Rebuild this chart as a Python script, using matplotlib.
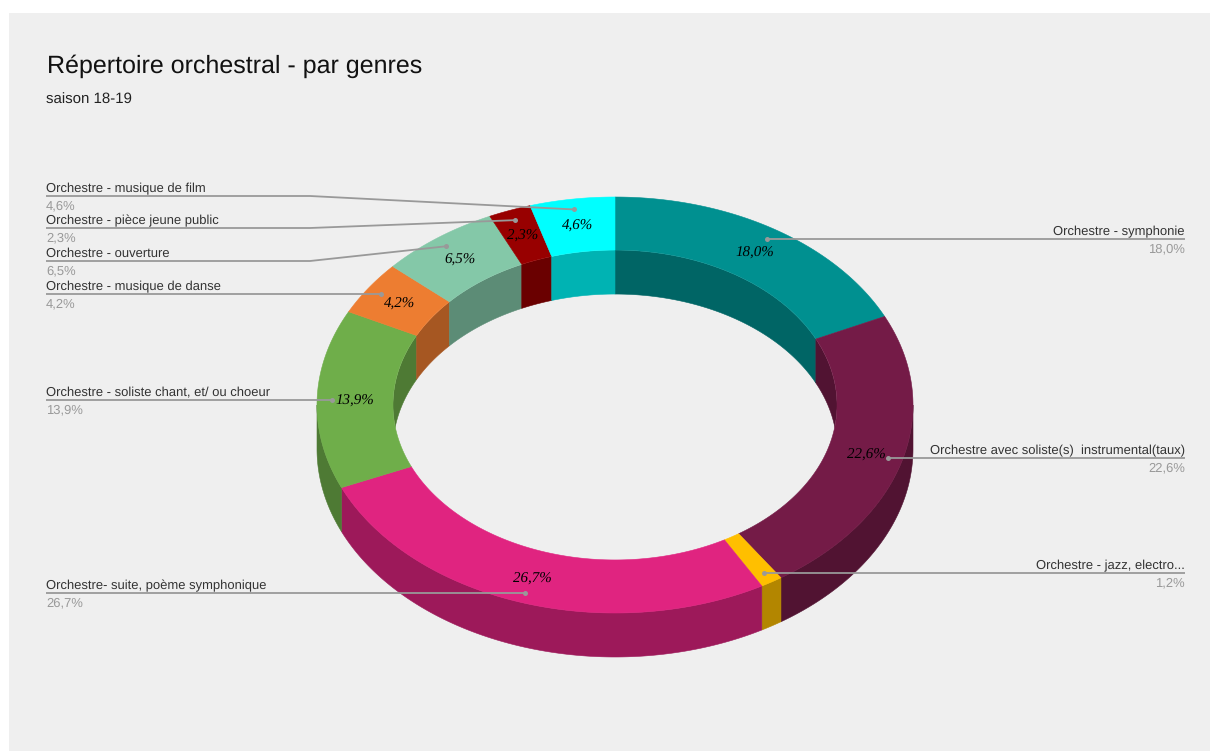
import numpy as np
import matplotlib
matplotlib.use("Agg")
import matplotlib.pyplot as plt
from matplotlib.patches import Ellipse, Rectangle
from matplotlib.colors import to_rgb

# values, clockwise from the top
genres = ['Orchestre - symphonie', 'Orchestre avec soliste(s)  instrumental(taux)',
          'Orchestre - jazz, electro...', 'Orchestre- suite, poème symphonique',
          'Orchestre - soliste chant, et/ ou choeur', 'Orchestre - musique de danse',
          'Orchestre - ouverture', 'Orchestre - pièce jeune public', 'Orchestre - musique de film']
shares = [18.0, 22.6, 1.2, 26.7, 13.9, 4.2, 6.5, 2.3, 4.6]
colors = ['#009090', '#741b47', '#ffbf00', '#e02480', '#6fae4a',
          '#ed7d31', '#84c8a8', '#980000', '#00ffff']

# layout in pixels of the reference
cx, cy = 615, 405
rx, ry = 298, 208
depth = 44
hole = 0.745
line_y = [239, 458, 573, 593, 400, 294, 261, 228, 196]
side = ['r', 'r', 'r', 'l', 'l', 'l', 'l', 'l', 'l']
elbow = [None, None, None, None, None, None, 310, 310, 310]
left_x, right_x = 46, 1185

plt.rcParams['font.family'] = ['Liberation Sans', 'DejaVu Sans']
plt.rcParams['text.hinting'] = 'no_hinting'
plt.rcParams['text.hinting_factor'] = 1
fig = plt.figure(figsize=(12.1, 7.51), dpi=100, facecolor='white')
ax = fig.add_axes([0, 0, 1, 1])
ax.set_xlim(0, 1210)
ax.set_ylim(751, 0)
ax.axis('off')
ax.add_patch(Rectangle((9, 13), 1201, 738, color='#efefef', lw=0, zorder=0))


def arc(a0, a1, r, shift=0):
    # angles in degrees clockwise from the top
    t = np.radians(np.linspace(a0, a1, max(int(abs(a1 - a0) * 3), 2)))
    return cx + r * rx * np.sin(t), cy + shift - r * ry * np.cos(t)


def band(a0, a1, r0, s0, r1, s1, color, z):
    x0, y0 = arc(a0, a1, r0, s0)
    x1, y1 = arc(a1, a0, r1, s1)
    return ax.fill(np.r_[x0, x1], np.r_[y0, y1], color=color, lw=0.4, zorder=z)[0]


edges = np.cumsum([0] + shares) * 3.6
hole_clip = Ellipse((cx, cy), 2 * hole * rx, 2 * hole * ry, transform=ax.transData)

for i, c in enumerate(colors):
    a0, a1 = edges[i], edges[i + 1]
    wall = tuple(v * 0.7 for v in to_rgb(c))
    # outer wall, front half only
    lo, hi = max(a0, 90), min(a1, 270)
    if lo < hi:
        band(lo, hi, 1, 0, 1, depth, wall, 2)
    # inner wall, back half only, seen through the hole
    for lo, hi in [(a0, min(a1, 90)), (max(a0, 270), a1)]:
        if lo < hi:
            p = band(lo, hi, hole, 0, hole, depth, wall, 1)
            p.set_clip_path(hole_clip)
    # top face
    band(a0, a1, 1, 0, hole, 0, c, 3)

ax.text(47, 73, 'Répertoire orchestral - par genres', fontsize=18.2, color='#111111', zorder=6)
ax.text(46, 104, 'saison 18-19', fontsize=10.8, color='#222222', zorder=6)

for i, name in enumerate(genres):
    mid = np.radians((edges[i] + edges[i + 1]) / 2)
    dot_x = cx + 0.95 * rx * np.sin(mid)
    dot_y = cy - 0.95 * ry * np.cos(mid)
    val_x = cx + 0.875 * rx * np.sin(mid)
    val_y = cy - 0.875 * ry * np.cos(mid) + 1.5
    pct = f'{shares[i]:.1f}%'.replace('.', ',')

    # the thin jazz slice has no label on the ring
    if shares[i] >= 2:
        ax.text(val_x, val_y, pct, family='Liberation Serif', style='italic', fontsize=11,
                color='black', ha='center', va='center', zorder=5)

    y = line_y[i]
    if side[i] == 'r':
        xs, ys, tx, ha = [dot_x, right_x], [y, y], right_x, 'right'
    else:
        if elbow[i] is not None:
            xs, ys = [left_x, elbow[i], dot_x], [y, y, dot_y]
        else:
            xs, ys = [left_x, dot_x], [y, y]
        tx, ha = left_x, 'left'
    ax.plot(xs, ys, color='#999999', lw=1.3, zorder=4, solid_capstyle='butt')
    ax.plot([dot_x], [dot_y if elbow[i] is not None else y], 'o', ms=3.6, color='#999999',
            mew=0, zorder=4)
    ax.text(tx, y - 4, name, fontsize=9.2, color='#333333', ha=ha, va='baseline', zorder=6)
    ax.text(tx, y + 13.5, pct, fontsize=9.2, color='#999999', ha=ha, va='baseline', zorder=6)

fig.savefig('out.png', dpi=100, facecolor=fig.get_facecolor())
